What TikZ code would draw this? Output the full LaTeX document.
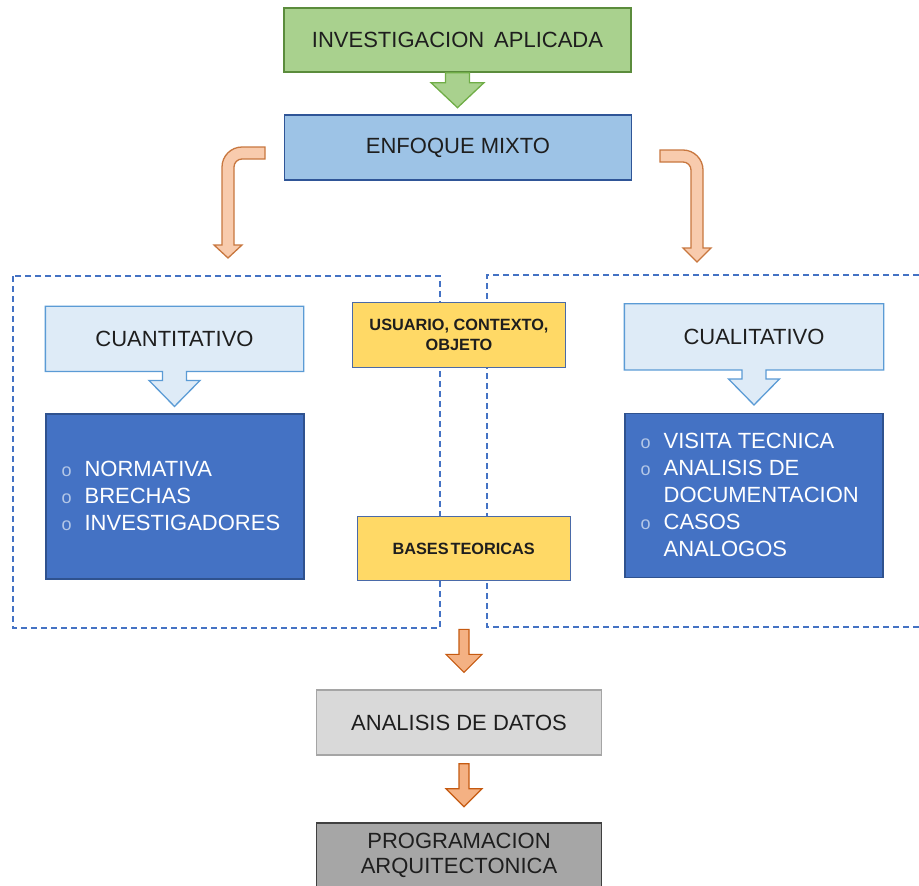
\documentclass[tikz,border=0pt]{standalone}
\usepackage{fontspec}
\setmainfont{Liberation Sans}
\usetikzlibrary{calc,backgrounds}
\definecolor{txt}{HTML}{1E1E1E}
\definecolor{grfill}{HTML}{A9D18E}
\definecolor{grline}{HTML}{5B8C3C}
\definecolor{grarrow}{HTML}{70AD47}
\definecolor{bufill}{HTML}{9DC3E6}
\definecolor{buline}{HTML}{2F5597}
\definecolor{ltfill}{HTML}{DEEBF7}
\definecolor{ltline}{HTML}{5B9BD5}
\definecolor{dkfill}{HTML}{4472C4}
\definecolor{dkline}{HTML}{2F528F}
\definecolor{ylfill}{HTML}{FFD966}
\definecolor{ylline}{HTML}{4A6AA8}
\definecolor{orfill}{HTML}{F8CBAD}
\definecolor{orline}{HTML}{C8773F}
\definecolor{ortwofill}{HTML}{F4B183}
\definecolor{ortwoline}{HTML}{C55A11}
\definecolor{dashc}{HTML}{4472C4}
\definecolor{gyfill}{HTML}{D9D9D9}
\definecolor{gyline}{HTML}{A5A5A5}
\definecolor{dgfill}{HTML}{A6A6A6}
\definecolor{dgline}{HTML}{404040}
\definecolor{bulletc}{HTML}{B4C7E7}
\newcommand\blkarrow[6]{% style, top point, length, shaft half, head half, head length
  \draw[#1] ($(#2)+(-#4,0)$) -- ($(#2)+(#4,0)$) -- ($(#2)+(#4,#3-#6)$) -- ($(#2)+(#5,#3-#6)$)
    -- ($(#2)+(0,#3)$) -- ($(#2)+(-#5,#3-#6)$) -- ($(#2)+(-#4,#3-#6)$) -- cycle;}
\newcommand\bul{{\fontsize{18}{18}\selectfont\color{bulletc}o}}
\begin{document}
\begin{tikzpicture}[x=1pt,y=-1pt,
  box/.style={draw, line width=1.3pt, inner sep=0pt, align=center, text=txt,
    font=\fontsize{22}{25}\selectfont},
  ybox/.style={box, fill=ylfill, draw=ylline, line width=1.2pt, font=\fontsize{16.3}{20}\selectfont\bfseries},
  listtext/.style={inner sep=0pt, text=white, font=\fontsize{22}{27}\selectfont, anchor=west},
  dashbox/.style={draw=dashc, line width=1.5pt, dash pattern=on 6pt off 4pt},
  callout/.style={fill=ltfill, draw=ltline, line width=1.3pt},
  curvearrow/.style={fill=orfill, draw=orline, line width=1.3pt},
  smallarrow/.style={fill=ortwofill, draw=ortwoline, line width=1.2pt},
  greenarrow/.style={fill=grfill, draw=grarrow, line width=1.3pt}]
\useasboundingbox (0,0) rectangle (919,886);

% dashed groups
\draw[dashbox] (13,276) rectangle (440,628);
\draw[dashbox] (919,275) -- (487,275) -- (487,627) -- (919,627);

% top boxes
\node[box, fill=grfill, draw=grline, minimum width=347pt, minimum height=64pt] (inv) at (457.5,40) {INVESTIGACION\hspace{0.45em}APLICADA};
\node[box, fill=bufill, draw=buline, minimum width=347pt, minimum height=65pt] (enf) at (458,147.5) {ENFOQUE MIXTO};
\blkarrow{greenarrow}{inv.south}{35}{12}{26.5}{25}

% curved arrows
\draw[curvearrow] (265,147) -- (242,147) .. controls (231,147) and (222,156) .. (222,167)
  -- (222,245) -- (214,245) -- (228,258) -- (242,245) -- (234,245) -- (234,167)
  .. controls (234,162.6) and (237.6,159) .. (242,159) -- (265,159) -- cycle;
\draw[curvearrow] (660,150) -- (683,150) .. controls (694,150) and (703,159) .. (703,170)
  -- (703,248) -- (711,248) -- (697,262) -- (683,248) -- (691,248) -- (691,170)
  .. controls (691,165.6) and (687.4,162) .. (683,162) -- (660,162) -- cycle;

% callout boxes
\node[box, draw=none, minimum width=257pt, minimum height=64pt] (cuant) at (174.5,338.8) {CUANTITATIVO};
\node[box, draw=none, minimum width=258pt, minimum height=65pt] (cual) at (754,336.8) {CUALITATIVO};
\begin{scope}[on background layer]
\foreach \c in {cuant,cual}{
  \draw[callout] (\c.north west) -- (\c.north east) -- (\c.south east)
    -- ($(\c.south)+(12,0)$) -- ($(\c.south)+(12,9)$) -- ($(\c.south)+(25.5,9)$)
    -- ($(\c.south)+(0,35)$) -- ($(\c.south)+(-25.5,9)$) -- ($(\c.south)+(-12,9)$)
    -- ($(\c.south)+(-12,0)$) -- (\c.south west) -- cycle;
}
\end{scope}

% dark blue boxes with lists
\node[box, fill=dkfill, draw=dkline, line width=1.2pt, minimum width=258pt, minimum height=165pt] (lbox) at (175,496.5) {};
\node[listtext] (llist) at ($(lbox.west)+(16,2)$) {\begin{tabular}{@{}l@{\hspace{13pt}}l@{}}
\bul & NORMATIVA\\ \bul & BRECHAS\\ \bul & INVESTIGADORES\end{tabular}};
\node[box, fill=dkfill, draw=dkline, line width=1.2pt, minimum width=258pt, minimum height=164pt] (rbox) at (754,495.3) {};
\node[listtext] (rlist) at ($(rbox.west)+(16,2)$) {\begin{tabular}{@{}l@{\hspace{13pt}}l@{}}
\bul & VISITA TECNICA\\ \bul & ANALISIS DE\\ & DOCUMENTACION\\ \bul & CASOS\\ & ANALOGOS\end{tabular}};

% yellow boxes
\node[ybox, minimum width=213pt, minimum height=65pt] (usu) at (459,334.8) {USUARIO, CONTEXTO,\\OBJETO};
\node[ybox, minimum width=213pt, minimum height=64pt] (bases) at (463.7,548.7) {BASES\hspace{0.12em}TEORICAS};

% bottom
\node[box, fill=gyfill, draw=gyline, minimum width=285pt, minimum height=65pt] (ana) at (459,722.5) {ANALISIS DE DATOS};
\node[box, fill=dgfill, draw=dgline, minimum width=285pt, minimum height=65pt] (prog) at (459,855.5) {PROGRAMACION\\ARQUITECTONICA};
\coordinate (aonetop) at ($(ana.north)+(5,-60)$);
\coordinate (atwotop) at ($(ana.south)+(5,8)$);
\blkarrow{smallarrow}{aonetop}{43}{5}{18}{18}
\blkarrow{smallarrow}{atwotop}{43}{5}{18}{18}
\end{tikzpicture}
\end{document}
